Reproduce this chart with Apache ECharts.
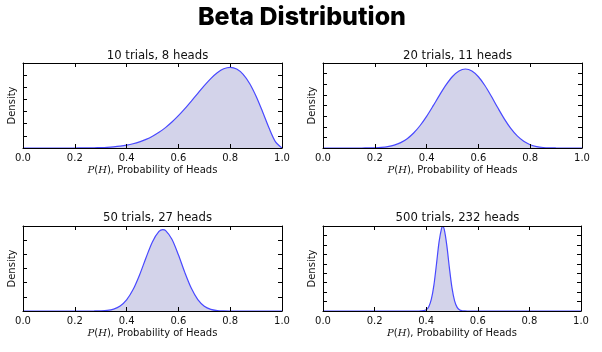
<!DOCTYPE html>
<html>
<head>
<meta charset="utf-8">
<script src="https://cdn.jsdelivr.net/npm/echarts@6/dist/echarts.min.js"></script>
<style>
  html, body { margin: 0; padding: 0; background: #fff; }
  #chart { width: 602px; height: 352px; }
</style>
</head>
<body>
<div id="chart"></div>
<script>
// titles of the four panels
var panelTitles = ["10 trials, 8 heads", "20 trials, 11 heads", "50 trials, 27 heads", "500 trials, 232 heads"];

// x ticks
var xTicks = [0, 0.2, 0.4, 0.6, 0.8, 1.0];
// y axis range / tick step per panel (ticks have no labels)
var yMaxes = [3.5, 4, 6, 18];
var ySteps = [0.5, 0.5, 1, 2];

// density curves
var xs1 = [0, 0.05, 0.1, 0.15, 0.2, 0.225, 0.25, 0.275, 0.3, 0.325, 0.35, 0.375, 0.4, 0.425, 0.45, 0.475, 0.5, 0.525, 0.55, 0.575, 0.6, 0.625, 0.65, 0.675, 0.7, 0.725, 0.75, 0.775, 0.8, 0.825, 0.85, 0.875, 0.9, 0.925, 0.95, 0.975, 1.0];
var ys1 = [0, 0, 0, 0.0001, 0.0008, 0.002, 0.0043, 0.0085, 0.0159, 0.0281, 0.0471, 0.0756, 0.1168, 0.1743, 0.2518, 0.3534, 0.4834, 0.6442, 0.8393, 1.0688, 1.3302, 1.6208, 1.9322, 2.253, 2.5682, 2.8574, 3.0972, 3.2614, 3.3219, 3.2531, 3.0349, 2.6576, 2.1308, 1.4923, 0.821, 0.2527, 0];

var xs2 = [0, 0.1, 0.15, 0.175, 0.2, 0.225, 0.25, 0.275, 0.3, 0.325, 0.35, 0.375, 0.4, 0.425, 0.45, 0.475, 0.5, 0.525, 0.55, 0.575, 0.6, 0.625, 0.65, 0.675, 0.7, 0.725, 0.75, 0.775, 0.8, 0.825, 0.85, 0.875, 0.9, 0.925, 1.0];
var ys2 = [0, 0, 0.0007, 0.0029, 0.0097, 0.0266, 0.0632, 0.1328, 0.2521, 0.4387, 0.7054, 1.0587, 1.4906, 1.9801, 2.4893, 2.9683, 3.3638, 3.626, 3.717, 3.625, 3.354, 2.941, 2.433, 1.891, 1.373, 0.923, 0.568, 0.316, 0.155, 0.0654, 0.0227, 0.0061, 0.0011, 0.0001, 0];

var xs3 = [0, 0.2, 0.25, 0.275, 0.3, 0.325, 0.35, 0.375, 0.4, 0.425, 0.45, 0.475, 0.5, 0.525, 0.54, 0.55, 0.575, 0.6, 0.625, 0.65, 0.675, 0.7, 0.725, 0.75, 0.775, 0.8, 1.0];
var ys3 = [0, 0, 0.0004, 0.0025, 0.0115, 0.0433, 0.1343, 0.351, 0.784, 1.513, 2.548, 3.763, 4.895, 5.614, 5.745, 5.686, 5.07, 3.968, 2.708, 1.599, 0.805, 0.341, 0.1187, 0.0331, 0.0071, 0.0011, 0];

var xs4 = [0, 0.3, 0.36, 0.37, 0.38, 0.39, 0.4, 0.41, 0.42, 0.43, 0.44, 0.45, 0.46, 0.464, 0.47, 0.48, 0.49, 0.5, 0.51, 0.52, 0.53, 0.54, 0.55, 0.56, 0.6, 1.0];
var ys4 = [0, 0, 0.0002, 0.0018, 0.0119, 0.0633, 0.267, 0.908, 2.492, 5.535, 10.006, 14.69, 17.6, 17.89, 17.26, 13.84, 9.09, 4.886, 2.152, 0.777, 0.229, 0.0548, 0.0107, 0.0019, 0, 0];

var curvesX = [xs1, xs2, xs3, xs4];
var curvesY = [ys1, ys2, ys3, ys4];

var grids = [
  { left: 23, top: 63, width: 259, height: 85 },
  { left: 323, top: 63, width: 259, height: 85 },
  { left: 23, top: 226, width: 259, height: 85 },
  { left: 323, top: 226, width: 258, height: 85 }
];
var titleCenters = [[152.5, 45], [452.5, 45], [152.5, 207], [452.5, 207]];

var myChart = echarts.init(document.getElementById("chart"));

var titles = [{
  text: "Beta Distribution",
  left: 297,
  textAlign: "center",
  top: 0,
  textStyle: { fontFamily: "Inter", fontWeight: 800, fontSize: 25, color: "#000" }
}];
var xAxes = [], yAxes = [], series = [];

for (let g = 0; g < 4; g++) {
  titles.push({
    text: panelTitles[g],
    left: titleCenters[g][0],
    top: titleCenters[g][1],
    textAlign: "center",
    textStyle: { fontFamily: "DejaVu Sans", fontWeight: "normal", fontSize: 11.7, color: "#111" }
  });
  var tick = { show: true, inside: true, length: 4, lineStyle: { color: "#000", width: 1 } };
  var line = { show: true, onZero: false, lineStyle: { color: "#000", width: 1 } };
  xAxes.push({
    type: "value", gridIndex: g, position: "bottom", z: 5,
    min: xTicks[0], max: xTicks[xTicks.length - 1], interval: 0.2,
    axisLine: line, axisTick: tick, splitLine: { show: false },
    axisLabel: {
      fontFamily: "DejaVu Sans", fontSize: 10, color: "#111", margin: 5,
      formatter: function (v) { return v.toFixed(1); }
    },
    name: "{m|P}({m|H}), Probability of Heads",
    nameLocation: "middle",
    nameGap: 17,
    nameTextStyle: {
      fontFamily: "DejaVu Sans", fontSize: 10, color: "#111",
      rich: { m: { fontFamily: "DejaVu Serif", fontStyle: "italic", fontSize: 10, color: "#111" } }
    }
  });
  xAxes.push({
    type: "value", gridIndex: g, position: "top", z: 5,
    min: xTicks[0], max: xTicks[xTicks.length - 1], interval: 0.2,
    axisLine: line, axisTick: tick, splitLine: { show: false },
    axisLabel: { show: false }
  });
  yAxes.push({
    type: "value", gridIndex: g, position: "left", z: 5,
    min: 0, max: yMaxes[g], interval: ySteps[g],
    axisLine: line, axisTick: tick, splitLine: { show: false },
    axisLabel: { show: false },
    name: "Density",
    nameLocation: "middle",
    nameGap: 6,
    nameTextStyle: { fontFamily: "DejaVu Sans", fontSize: 10, color: "#111" }
  });
  yAxes.push({
    type: "value", gridIndex: g, position: "right", z: 5,
    min: 0, max: yMaxes[g], interval: ySteps[g],
    axisLine: line, axisTick: tick, splitLine: { show: false },
    axisLabel: { show: false }
  });
  series.push({
    type: "line",
    xAxisIndex: g * 2,
    yAxisIndex: g * 2,
    data: curvesX[g].map(function (x, i) { return [x, curvesY[g][i]]; }),
    showSymbol: false,
    smooth: 0.3,
    z: 2,
    lineStyle: { color: "#4848ff", width: 1.2 },
    areaStyle: { color: "#d3d3ea", opacity: 1 }
  });
}

var option = {
  backgroundColor: "#fff",
  animation: false,
  title: titles,
  grid: grids,
  xAxis: xAxes,
  yAxis: yAxes,
  series: series
};
myChart.setOption(option);
</script>
</body>
</html>
